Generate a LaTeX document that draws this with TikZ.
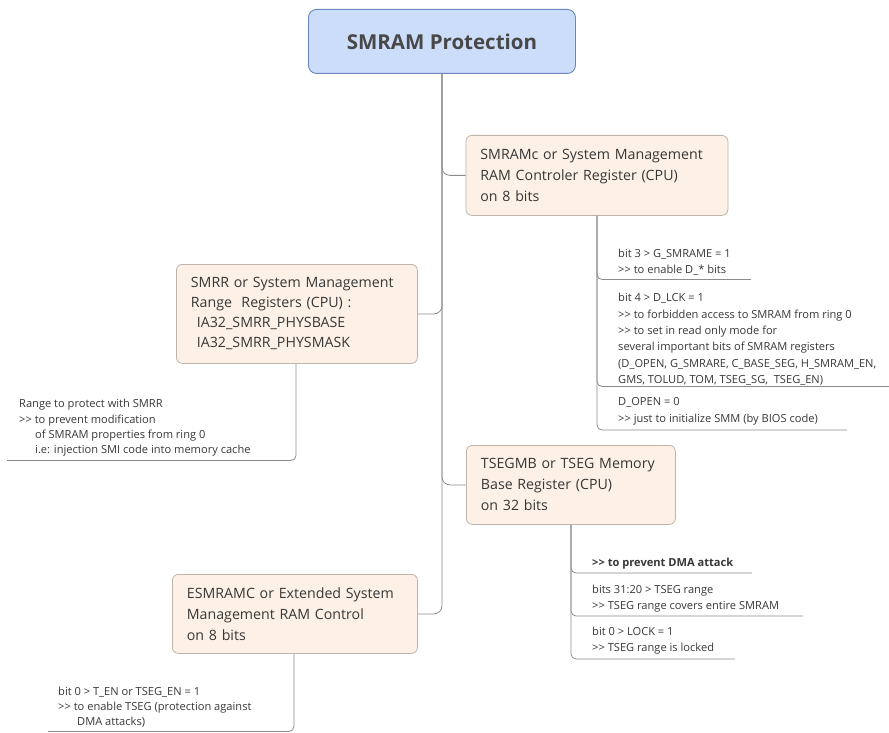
\documentclass[tikz,border=0pt]{standalone}
\usepackage{fontspec}
\setmainfont{Open Sans}
\definecolor{boxfill}{RGB}{253,241,231}
\definecolor{boxline}{RGB}{190,180,170}
\definecolor{titlefill}{RGB}{204,221,250}
\definecolor{titleline}{RGB}{105,135,190}
\definecolor{textc}{RGB}{55,55,55}
\definecolor{titletext}{RGB}{72,72,72}
\definecolor{connc}{RGB}{140,140,140}
\newcommand{\dgt}{>{}>}
\newcommand{\nohyph}{\hyphenpenalty=10000 \exhyphenpenalty=10000 }
\tikzset{
  topicbox/.style={draw=boxline, fill=boxfill, rounded corners=6pt, line width=0.8pt,
    align=left, anchor=north west, inner xsep=14.5pt, inner ysep=0pt, text=textc,
    font={\fontsize{14.2}{21}\selectfont\nohyph}},
  titlebox/.style={draw=titleline, fill=titlefill, rounded corners=8pt, line width=0.9pt,
    anchor=north west, inner sep=0pt, text=titletext,
    font=\fontsize{20.5}{24}\selectfont\bfseries},
  subtext/.style={anchor=north west, inner sep=0pt, align=left, text=textc,
    font=\fontsize{11.1}{16.4}\selectfont},
  subtextb/.style={subtext, font=\fontsize{11.1}{15.4}\selectfont},
  conn/.style={draw=connc, line width=0.8pt, rounded corners=8pt},
  subconn/.style={draw=connc, line width=0.8pt, rounded corners=5pt},
}
\begin{document}
\begin{tikzpicture}[x=1pt,y=-1pt]
\useasboundingbox (0,0) rectangle (889,733);

% main topic
\node[titlebox, minimum width=267pt, minimum height=64pt] (title) at (308,9) {SMRAM Protection};

% topics
\node[topicbox, minimum width=262pt, minimum height=80pt, text width=233pt] (smramc) at (465.5,135)
  {SMRAMc or System Management\\RAM Controler Register (CPU)\\on 8 bits};
\node[topicbox, minimum width=241pt, minimum height=99pt, text width=212pt,
  font={\fontsize{14.2}{20}\selectfont\nohyph}] (smrr) at (176,264)
  {SMRR or System Management\\Range~ Registers (CPU) :\\\hspace*{6pt}IA32\_SMRR\_PHYSBASE\\\hspace*{6pt}IA32\_SMRR\_PHYSMASK};
\node[topicbox, minimum width=209pt, minimum height=79pt, text width=180pt] (tseg) at (466,445)
  {TSEGMB or TSEG Memory\\Base Register (CPU)\\on 32 bits};
\node[topicbox, minimum width=245pt, minimum height=79pt, text width=216pt] (esmramc) at (172,574)
  {ESMRAMC or Extended System\\Management RAM Control\\on 8 bits};

% connectors main -> topics
\draw[conn] (title.south) |- (esmramc.east);
\draw[conn] (title.south) |- (smramc.west);
\draw[conn] (title.south) |- (smrr.east);
\draw[conn] (title.south) |- (tseg.west);

% SMRAMc details
\node[subtext] (g1) at (618,248.5) {bit 3 > G\_SMRAME = 1\\\dgt{} to enable D\_* bits};
\node[subtext] (g2) at (618,293) {bit 4 > D\_LCK = 1\\\dgt{} to forbidden access to SMRAM from ring 0\\\dgt{} to set in read only mode for\\several important bits of SMRAM registers\\(D\_OPEN, G\_SMRARE, C\_BASE\_SEG, H\_SMRAM\_EN,\\GMS, TOLUD, TOM, TSEG\_SG,~ TSEG\_EN)};
\node[subtext] (g3) at (618,397.5) {D\_OPEN = 0\\\dgt{} just to initialize SMM (by BIOS code)};
\coordinate (gs) at ([xshift=131.5pt]smramc.south west);
\coordinate (ge1) at (751,279.5);
\coordinate (ge2) at (889,386.5);
\coordinate (ge3) at (847,430);
\draw[subconn] (gs) |- (ge3);
\draw[subconn] (gs) |- (ge2);
\draw[subconn] (gs) |- (ge1);

% TSEG details
\node[subtext, font=\fontsize{11.1}{16.4}\selectfont\bfseries] (h1) at (592,558) {\dgt{} to prevent DMA attack};
\node[subtext] (h2) at (592,584.5) {bits 31:20 > TSEG range\\\dgt{} TSEG range covers entire SMRAM};
\node[subtext] (h3) at (592,626.5) {bit 0 > LOCK = 1\\\dgt{} TSEG range is locked};
\coordinate (hs) at ([xshift=105pt]tseg.south west);
\coordinate (he1) at (752,573);
\coordinate (he2) at (803,616);
\coordinate (he3) at (735,659);
\draw[subconn] (hs) |- (he3);
\draw[subconn] (hs) |- (he2);
\draw[subconn] (hs) |- (he1);

% SMRR details
\node[subtextb] (r1) at (19,399) {Range to protect with SMRR\\\dgt{} to prevent modification\\\hspace*{16pt}of SMRAM properties from ring 0\\\hspace*{16pt}i.e: injection SMI code into memory cache};
\coordinate (rs) at ([xshift=120pt]smrr.south west);
\coordinate (re) at (7,460.5);
\draw[subconn] (rs) |- (re);

% ESMRAMC details
\node[subtextb] (e1) at (58,686.5) {bit 0 > T\_EN or TSEG\_EN = 1\\\dgt{} to enable TSEG (protection against\\\hspace*{19pt}DMA attacks)};
\coordinate (es) at ([xshift=122pt]esmramc.south west);
\coordinate (ee) at (48,731.5);
\draw[subconn] (es) |- (ee);
\end{tikzpicture}
\end{document}
